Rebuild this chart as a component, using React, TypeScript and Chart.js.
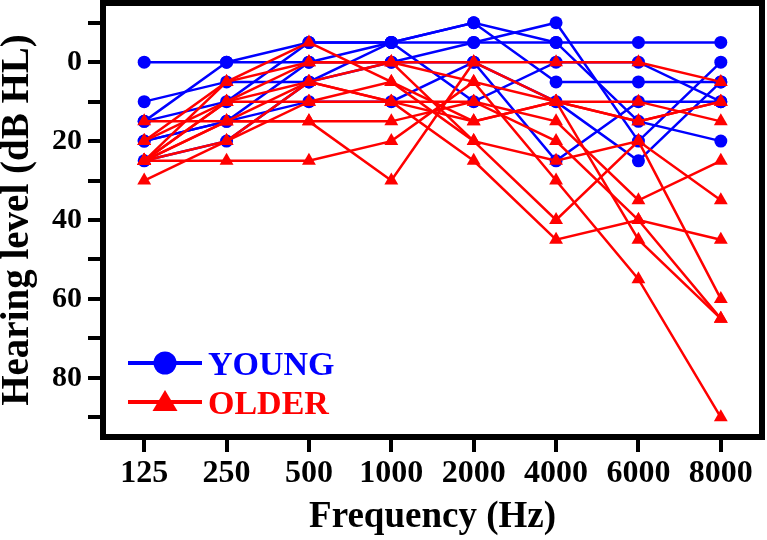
import React, { useEffect, useRef } from 'react';
import { Chart, registerables } from 'chart.js';

Chart.register(...registerables);

const frequencies = ['125', '250', '500', '1000', '2000', '4000', '6000', '8000'];

// YOUNG listeners (dB HL)
const young1 = [0, 0, -5, -5, -10, -5, -5, -5];
const young2 = [10, 5, 5, -5, -5, -10, 20, 0];
const young3 = [15, 0, 0, -5, -10, 5, 5, 5];
const young4 = [15, 10, -5, -5, 10, 0, 0, 10];
const young5 = [20, 15, 0, 0, -5, -5, 15, 20];
const young6 = [25, 20, 5, 0, 0, 25, 10, 10];
const young7 = [20, 15, 10, 10, 0, 10, 25, 5];

// OLDER listeners (dB HL)
const older1 = [30, 20, 10, 10, 15, 10, 15, 10];
const older2 = [25, 25, 25, 20, 5, 10, 10, 15];
const older3 = [25, 5, -5, 5, 20, 25, 20, 35];
const older4 = [25, 10, 0, 0, 0, 0, 0, 5];
const older5 = [25, 15, 15, 15, 10, 15, 35, 25];
const older6 = [25, 20, 5, 0, 20, 40, 20, 60];
const older7 = [20, 10, 5, 10, 25, 45, 40, 45];
const older8 = [20, 5, 0, 0, 5, 30, 55, 90];
const older9 = [15, 15, 15, 30, 0, 10, 45, 65];
const older10 = [25, 15, 5, 10, 10, 20, 40, 65];
const older11 = [25, 10, 10, 5, 15, 10, 15, 10];

const youngSeries = [young1, young2, young3, young4, young5, young6, young7];
const olderSeries = [older1, older2, older3, older4, older5, older6, older7, older8, older9, older10, older11];

const yTickValues = [-10, 0, 10, 20, 30, 40, 50, 60, 70, 80, 90];
const yLabeledTicks = [0, 20, 40, 60, 80];

const groupLabels = ['YOUNG', 'OLDER'];
const BLUE = '#0000ff';
const RED = '#ff0000';
const FONT = '"Liberation Serif", "Times New Roman", serif';

const framePlugin = {
  id: 'frameBox',
  afterDatasetsDraw(chart: any) {
    const { ctx, chartArea: a } = chart;
    ctx.save();
    ctx.strokeStyle = '#000';
    ctx.lineWidth = 6;
    ctx.lineJoin = 'miter';
    ctx.strokeRect(a.left, a.top, a.right - a.left, a.bottom - a.top);
    ctx.restore();
  },
};

const innerLegendPlugin = {
  id: 'innerLegend',
  afterDraw(chart: any) {
    const { ctx, chartArea: a } = chart;
    const groups = [
      { label: groupLabels[0], color: BLUE, shape: 'circle', y: a.bottom - 74 },
      { label: groupLabels[1], color: RED, shape: 'triangle', y: a.bottom - 35 },
    ];
    groups.forEach((g) => {
      const cx = a.left + 62;
      ctx.save();
      ctx.strokeStyle = g.color;
      ctx.fillStyle = g.color;
      ctx.lineWidth = 4;
      ctx.beginPath();
      ctx.moveTo(a.left + 25, g.y);
      ctx.lineTo(a.left + 99, g.y);
      ctx.stroke();
      ctx.beginPath();
      if (g.shape === 'circle') {
        ctx.arc(cx, g.y, 11.5, 0, Math.PI * 2);
      } else {
        ctx.moveTo(cx, g.y - 12);
        ctx.lineTo(cx - 12.5, g.y + 9);
        ctx.lineTo(cx + 12.5, g.y + 9);
        ctx.closePath();
      }
      ctx.fill();
      ctx.font = `bold 34px ${FONT}`;
      ctx.textAlign = 'left';
      ctx.textBaseline = 'alphabetic';
      ctx.fillText(g.label, a.left + 105, g.y + 12);
      ctx.restore();
    });
  },
};

export default function App() {
  const canvasRef = useRef<HTMLCanvasElement | null>(null);

  useEffect(() => {
    if (!canvasRef.current) return;
    const datasets: any[] = [];
    youngSeries.forEach((s, i) => {
      datasets.push({
        label: i === 0 ? groupLabels[0] : `${groupLabels[0]} ${i + 1}`,
        data: s,
        borderColor: BLUE,
        backgroundColor: BLUE,
        borderWidth: 2.5,
        pointStyle: 'circle',
        pointRadius: 6.5,
        pointBorderWidth: 0,
        tension: 0,
        fill: false,
        order: 1,
      });
    });
    olderSeries.forEach((s, i) => {
      datasets.push({
        label: i === 0 ? groupLabels[1] : `${groupLabels[1]} ${i + 1}`,
        data: s,
        borderColor: RED,
        backgroundColor: RED,
        borderWidth: 2.5,
        pointStyle: 'triangle',
        pointRadius: 8,
        pointBorderWidth: 0,
        tension: 0,
        fill: false,
        order: 0,
      });
    });

    const chart = new Chart(canvasRef.current, {
      type: 'line',
      data: { labels: frequencies, datasets },
      options: {
        animation: false,
        responsive: false,
        maintainAspectRatio: false,
        layout: { autoPadding: false, padding: { top: 3, right: 5, left: 0, bottom: 0 } },
        plugins: {
          legend: { display: false },
          tooltip: { enabled: false },
        },
        scales: {
          x: {
            type: 'category',
            offset: true,
            afterFit: (axis: any) => {
              axis.height = 103;
              axis.paddingLeft = 0;
              axis.paddingRight = 0;
            },
            ticks: {
              color: '#000',
              font: { family: FONT, size: 32, weight: 'bold', lineHeight: 1 },
              padding: 6,
              maxRotation: 0,
              minRotation: 0,
              autoSkip: false,
            },
            grid: {
              drawOnChartArea: false,
              drawTicks: true,
              tickLength: 15,
              lineWidth: 4,
              color: '#000',
            },
            border: { display: false },
            title: {
              display: true,
              text: 'Frequency (Hz)',
              color: '#000',
              font: { family: FONT, size: 37, weight: 'bold', lineHeight: 1 },
              padding: { top: 0, bottom: 4 },
            },
          },
          y: {
            type: 'linear',
            reverse: true,
            min: -15,
            max: 95,
            afterBuildTicks: (axis: any) => {
              axis.ticks = yTickValues.map((v) => ({ value: v }));
            },
            afterFit: (axis: any) => {
              axis.width = 103;
              axis.paddingTop = 0;
              axis.paddingBottom = 0;
            },
            ticks: {
              color: '#000',
              font: { family: FONT, size: 30, weight: 'bold', lineHeight: 1 },
              padding: 6,
              autoSkip: false,
              callback: (v: any) => (yLabeledTicks.includes(Number(v)) ? String(v) : ''),
            },
            grid: {
              drawOnChartArea: false,
              drawTicks: true,
              tickLength: 15,
              lineWidth: 4,
              color: '#000',
            },
            border: { display: false },
            title: {
              display: true,
              text: 'Hearing level (dB HL)',
              color: '#000',
              font: { family: FONT, size: 39, weight: 'bold', lineHeight: 0.9 },
              padding: { top: 0, bottom: 0 },
            },
          },
        },
      },
      plugins: [framePlugin, innerLegendPlugin],
    } as any);

    return () => chart.destroy();
  }, []);

  return (
    <div style={{ position: 'absolute', left: 0, top: 0, width: 767, height: 540, background: '#fff' }}>
      <canvas ref={canvasRef} width={767} height={540} style={{ display: 'block' }} />
    </div>
  );
}
